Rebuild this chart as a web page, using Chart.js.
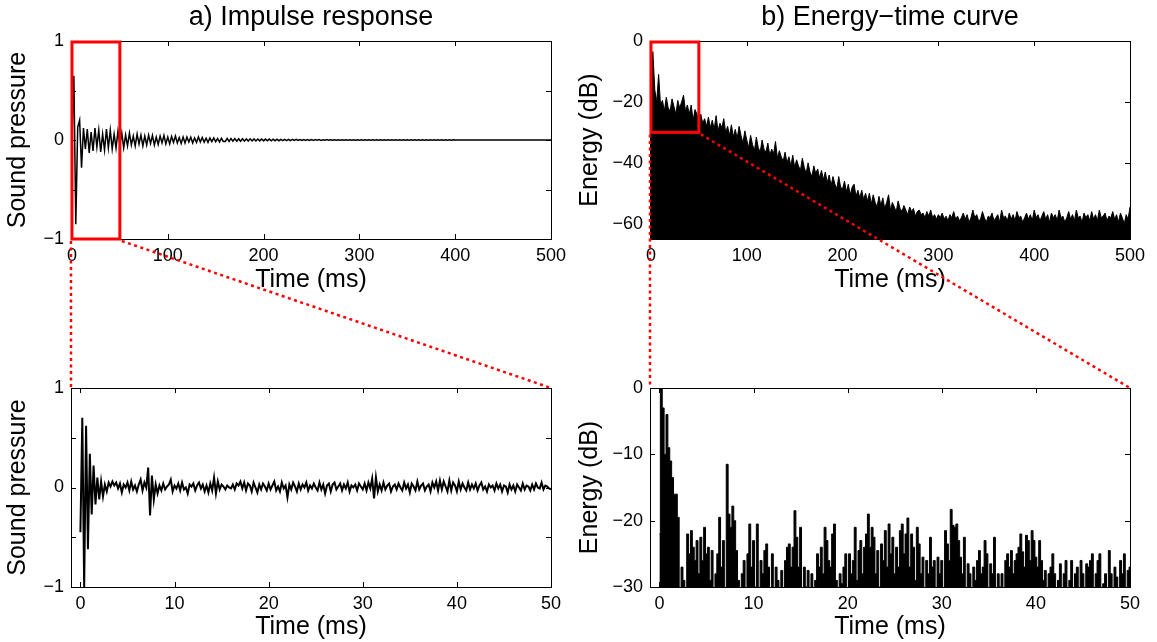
<!DOCTYPE html>
<html>
<head>
<meta charset="utf-8">
<title>Impulse response and energy-time curve</title>
<script src="https://cdn.jsdelivr.net/npm/chart.js@4.4.1/dist/chart.umd.min.js"></script>
<style>
  html, body { margin: 0; padding: 0; background: #fff; }
  #page { position: relative; width: 1157px; height: 642px; overflow: hidden; }
  #page canvas { position: absolute; }
  #overlay { left: 0; top: 0; pointer-events: none; }
</style>
</head>
<body>
<div id="page">
  <canvas id="irFull"  width="580" height="300" style="left:0;top:0"></canvas>
  <canvas id="etcFull" width="585" height="300" style="left:572px;top:0"></canvas>
  <canvas id="irZoom"  width="580" height="292" style="left:0;top:350px"></canvas>
  <canvas id="etcZoom" width="585" height="292" style="left:572px;top:350px"></canvas>
  <canvas id="overlay" width="1157" height="642"></canvas>
</div>
<script>
// sample spacing of the read-off series (ms)
const FULL_STEP_MS = 2;
const ZOOM_STEP_MS = 0.2;

const FULL_TIME_TICKS = [0, 100, 200, 300, 400, 500];
const ZOOM_TIME_TICKS = [0, 10, 20, 30, 40, 50];
const IR_TICKS        = [-1, -0.5, 0, 0.5, 1];
const IR_TICK_LABELS  = ['\u22121', '', '0', '', '1'];
const ETC_FULL_TICKS  = [-60, -40, -20, 0];
const ETC_FULL_LABELS = ['\u221260', '\u221240', '\u221220', '0'];
const ETC_ZOOM_TICKS  = [-30, -20, -10, 0];
const ETC_ZOOM_LABELS = ['\u221230', '\u221220', '\u221210', '0'];

// zoomed window shown in the lower panels
const ZOOM_WINDOW_MS = [0, 50];
const IR_WINDOW      = [-1, 1];
const ETC_WINDOW     = [-30, 0];

// a) impulse response, 0..500 ms every 2 ms
const irFull = [
  0, 0.65, -0.85, 0.13, 0.2, -0.28, 0.12, -0.09, 0.11, -0.13,
  0.08, -0.11, 0.12, -0.07, 0.1, -0.12, 0.06, -0.1, 0.11, -0.08,
  0.1, -0.09, 0.06, -0.08, 0.09, -0.05, 0.07, -0.08, 0.05, -0.06,
  0.07, -0.05, 0.04, -0.06, 0.06, -0.04, 0.05, -0.06, 0.04, -0.05,
  0.05, -0.035, 0.045, -0.05, 0.03, -0.045, 0.04, -0.03, 0.045, -0.04,
  0.03, -0.04, 0.035, -0.025, 0.04, -0.03, 0.025, -0.035, 0.03, -0.03,
  0.03, -0.02, 0.028, -0.03, 0.02, -0.025, 0.03, -0.02, 0.025, -0.022,
  0.018, -0.024, 0.02, -0.016, 0.022, -0.018, 0.015, -0.02, 0.017, -0.015,
  -0.015, 0.016, -0.014, 0.015, -0.013, 0.014, -0.012, 0.013, -0.013, 0.012,
  -0.012, 0.011, -0.011, 0.012, -0.01, 0.011, -0.01, 0.01, -0.009, 0.01,
  -0.009, 0.009, -0.008, 0.009, -0.008, 0.008, -0.007, 0.008, -0.007, 0.007,
  -0.007, 0.006, -0.006, 0.007, -0.006, 0.006, -0.005, 0.006, -0.005, 0.005,
  -0.005, 0.005, -0.004, 0.005, -0.004, 0.004, -0.004, 0.004, -0.003, 0.004,
  -0.004, 0.003, -0.003, 0.004, -0.003, 0.003, -0.003, 0.003, -0.003, 0.003,
  -0.003, 0.003, -0.002, 0.003, -0.002, 0.002, -0.002, 0.003, -0.002, 0.002,
  -0.002, 0.002, -0.002, 0.002, -0.002, 0.002, -0.002, 0.002, -0.002, 0.002,
  -0.002, 0.002, -0.002, 0.002, -0.002, 0.002, -0.002, 0.002, -0.002, 0.002,
  -0.002, 0.002, -0.002, 0.002, -0.002, 0.002, -0.002, 0.002, -0.002, 0.002,
  -0.002, 0.002, -0.002, 0.002, -0.002, 0.002, -0.002, 0.002, -0.002, 0.002,
  -0.002, 0.002, -0.002, 0.002, -0.002, 0.002, -0.002, 0.002, -0.002, 0.002,
  -0.001, 0.001, -0.001, 0.001, -0.001, 0.001, -0.001, 0.001, -0.001, 0.001,
  -0.001, 0.001, -0.001, 0.001, -0.001, 0.001, -0.001, 0.001, -0.001, 0.001,
  -0.001, 0.001, -0.001, 0.001, -0.001, 0.001, -0.001, 0.001, -0.001, 0.001,
  -0.001, 0.001, -0.001, 0.001, -0.001, 0.001, -0.001, 0.001, -0.001, 0.001,
  -0.001, 0.001, -0.001, 0.001, -0.001, 0.001, -0.001, 0.001, -0.001, 0.001,
  0
];

// b) energy-time curve (dB), 0..500 ms every 2 ms
const etcFull = [
  -10, -3.5, -16, -20, -11, -21, -19.5, -23, -18.5, -22,
  -23, -19, -21.5, -24, -19.5, -22, -20, -17.8, -23, -21,
  -24, -21, -26, -22.5, -24, -26.5, -24, -27, -25.5, -28,
  -25, -28.5, -26, -29, -24.5, -29.5, -27, -28.5, -25.5, -30,
  -28, -31, -27.5, -31.5, -29, -32, -28, -31, -33.5, -29.5,
  -32.5, -35, -31, -34, -36, -31.5, -35, -36.5, -32.5, -35.5,
  -36.5, -33.5, -37.5, -35.5, -37, -33, -38.5, -36, -38, -39.5,
  -36.5, -40, -38, -41, -37.5, -41.5, -39, -41, -42.5, -38.5,
  -41.5, -43.5, -40, -43, -44.5, -41, -43.5, -42, -45, -42.5,
  -45.5, -43, -46.5, -44, -47.5, -44.5, -47, -48.5, -44.5, -48,
  -48.5, -46, -49.5, -47, -50.5, -48, -47, -51, -49, -51.5,
  -49, -52, -50, -52.5, -50, -53.5, -50.5, -53, -54.5, -51,
  -54, -51.5, -55, -53, -50.5, -55.5, -53, -54.5, -56, -52.5,
  -55, -56, -54, -55.5, -57, -54.5, -56, -55, -57.5, -56,
  -55.5, -57, -56.5, -58, -56, -57.5, -55.5, -58, -57, -58.5,
  -57, -58, -56.5, -58.5, -57.5, -59, -57, -58, -56, -58.5,
  -57.5, -59, -58, -56.5, -58.5, -57, -59.5, -58, -55.5, -58,
  -57, -59, -58.5, -56, -58, -59.5, -57.5, -58, -56.5, -59,
  -58, -57, -59.5, -55.5, -58, -57.5, -59, -56.5, -58.5, -57,
  -59, -56, -58, -57.5, -59.5, -58, -56.5, -58.5, -57, -59,
  -55.5, -58, -57, -59, -57.5, -56, -58.5, -57, -59.5, -56.5,
  -58, -57, -59, -55.5, -58, -57.5, -59.5, -58, -56, -58.5,
  -57, -59, -55.5, -58, -57.5, -59.5, -56.5, -58, -57, -59,
  -56, -58.5, -57, -59, -55.5, -58, -57.5, -56.5, -59, -57.5,
  -58, -56, -58.5, -57, -59.5, -56.5, -58, -60, -57, -58.5,
  -54.5
];

// a) zoom, 0..50 ms every 0.2 ms
const irZoom = [
  -0.45, 0.7, -1.0, 0.62, -0.62, 0.34, -0.27, 0.22, -0.17, 0.1,
  -0.12, 0.06, -0.09, 0.03, -0.04, 0.05, 0.01, 0.06, 0.02, 0.05,
  -0.01, 0.04, -0.05, 0.03, 0.0, 0.05, -0.03, 0.06, -0.02, 0.02,
  -0.04, 0.03, 0.08, -0.03, 0.05, 0.0, 0.2, -0.28, 0.12, -0.12,
  0.03, -0.06, 0.02, -0.03, 0.04, -0.02, 0.01, 0.03, 0.08, -0.04,
  0.02, -0.01, 0.04, -0.03, 0.05, -0.02, 0.0, -0.06, 0.03, 0.01,
  0.04, -0.03, 0.02, 0.05, -0.01, 0.03, -0.04, 0.02, -0.05, 0.04,
  -0.03, 0.1, -0.06, 0.06, -0.02, 0.03, 0.01, -0.02, 0.02, 0.0,
  -0.01, 0.03, -0.02, 0.04, 0.02, 0.06, -0.01, 0.05, -0.03, 0.04,
  0.02, -0.04, 0.05, 0.0, -0.05, 0.03, -0.02, 0.04, 0.01, -0.03,
  0.04, -0.02, 0.02, 0.06, -0.03, 0.01, -0.04, 0.05, -0.01, 0.02,
  -0.1, 0.03, -0.02, 0.05, 0.01, -0.04, 0.04, -0.02, 0.03, 0.0,
  0.05, -0.03, 0.02, -0.01, 0.04, 0.0, -0.03, 0.05, -0.02, 0.03,
  -0.06, 0.02, 0.04, -0.04, 0.03, 0.05, -0.02, 0.01, 0.04, -0.03,
  0.03, -0.01, 0.05, -0.04, 0.02, 0.0, 0.03, -0.03, 0.04, 0.01,
  -0.02, 0.04, -0.03, 0.05, -0.01, 0.09, -0.11, 0.1, -0.04, 0.03,
  -0.03, 0.05, -0.02, 0.02, 0.04, -0.04, 0.01, 0.03, -0.02, 0.04,
  0.0, -0.03, 0.05, -0.01, 0.03, -0.05, 0.04, 0.01, -0.03, 0.06,
  -0.02, 0.02, 0.04, -0.03, 0.01, 0.03, -0.04, 0.05, 0.0, 0.06,
  -0.03, 0.07, -0.02, 0.06, 0.01, -0.04, 0.07, -0.03, 0.05, 0.02,
  -0.04, 0.06, -0.02, 0.04, 0.0, -0.03, 0.05, -0.02, 0.03, -0.01,
  0.04, -0.03, 0.02, 0.05, -0.02, 0.01, -0.04, 0.03, 0.0, 0.02,
  -0.03, 0.04, -0.01, 0.03, -0.04, 0.02, 0.01, -0.05, 0.03, -0.02,
  0.02, -0.04, 0.03, 0.0, -0.03, 0.04, -0.02, 0.02, 0.01, -0.03,
  0.03, -0.02, 0.04, 0.0, -0.01, 0.05, -0.02, 0.02, 0.01, -0.01,
  -0.02
];

// b) zoom (dB), 0..50 ms every 0.2 ms; values under -30 sit below the axis
const etcZoom = [
  -22, 0, -3, -10, -4, -9, -11, -13.5, -16, -16,
  -19.5, -34, -27, -29, -34, -22, -25, -21.5, -24, -26,
  -23, -28, -22.5, -26, -21, -25, -24, -29, -24.5, -34,
  -28, -25, -19.5, -27, -23, -34, -11.5, -19, -21, -17.8,
  -20, -24.5, -29, -34, -28, -26, -34, -25, -20.5, -27,
  -23, -30, -20.5, -34, -26, -28, -24.5, -23.5, -27, -34,
  -25, -34, -27, -29, -34, -27.5, -32, -26, -24, -23.5,
  -27, -24, -18.5, -22.5, -27, -21, -34, -27, -30, -27.5,
  -34, -28, -34, -29, -25, -27, -24, -28, -21, -23,
  -26, -27, -22, -20.5, -29, -34, -28, -29.5, -27, -25,
  -34, -25, -28, -26, -21, -29, -24.5, -23, -28, -24,
  -22, -19, -24, -21, -22.5, -28, -24.5, -30, -23.5, -26,
  -21.5, -27, -20.5, -25, -22.5, -28, -24, -27, -21.5, -20.5,
  -25, -22, -19.6, -27, -22, -24, -29, -21, -23.5, -28,
  -25.5, -34, -26, -28, -22.5, -27, -26, -34, -25.5, -28,
  -26, -34, -21.5, -23.5, -26, -18.3, -20.7, -21, -20.5, -23,
  -25.5, -28, -22.5, -34, -26.5, -28, -34, -27, -29, -26,
  -24.5, -28, -27, -23, -25, -34, -26.5, -28, -22.5, -34,
  -28, -30, -28, -34, -26, -25, -27, -24.5, -28, -26,
  -25, -24, -22, -24.7, -27, -22.2, -23, -26, -21.5, -23,
  -25.5, -27, -23, -26, -29, -27.5, -34, -28, -27, -25,
  -28, -34, -29, -26.5, -34, -28, -26, -34, -29, -26,
  -34, -28, -27, -34, -26, -28, -34, -26.5, -27, -26,
  -25, -34, -28, -26, -25, -34, -29.5, -28, -34, -24.5,
  -28, -34, -27, -28.5, -34, -26, -28, -25, -34, -27.5,
  -27
];

Chart.defaults.font.family = '"Liberation Sans", Arial, Helvetica, sans-serif';
Chart.defaults.color = '#000';

function toPoints(values, step) {
  return values.map((v, i) => ({ x: +(i * step).toFixed(2), y: v }));
}

// MATLAB style box with inward ticks on all four sides
const boxPlugin = {
  id: 'matlabBox',
  afterDatasetsDraw(chart) {
    const { ctx, chartArea: a, scales } = chart;
    const L = 5;
    ctx.save();
    ctx.strokeStyle = '#000';
    ctx.lineWidth = 1;
    ctx.beginPath();
    scales.x.ticks.forEach(t => {
      const px = Math.round(scales.x.getPixelForValue(t.value)) + 0.5;
      ctx.moveTo(px, a.bottom); ctx.lineTo(px, a.bottom - L);
      ctx.moveTo(px, a.top);    ctx.lineTo(px, a.top + L);
    });
    scales.y.ticks.forEach(t => {
      const py = Math.round(scales.y.getPixelForValue(t.value)) + 0.5;
      ctx.moveTo(a.left, py);  ctx.lineTo(a.left + L, py);
      ctx.moveTo(a.right, py); ctx.lineTo(a.right - L, py);
    });
    ctx.stroke();
    ctx.strokeRect(Math.round(a.left) + 0.5, Math.round(a.top) + 0.5,
                   Math.round(a.right - a.left), Math.round(a.bottom - a.top));
    ctx.restore();
  }
};

// red rectangle marking the zoomed window
const zoomBoxPlugin = {
  id: 'zoomBox',
  afterDraw(chart, args, opts) {
    if (!opts || !opts.y) return;
    const { ctx, scales } = chart;
    const x0 = scales.x.getPixelForValue(opts.x[0]);
    const x1 = scales.x.getPixelForValue(opts.x[1]);
    const y0 = scales.y.getPixelForValue(opts.y[1]);
    const y1 = scales.y.getPixelForValue(opts.y[0]);
    ctx.save();
    ctx.strokeStyle = '#ff0000';
    ctx.lineWidth = 3;
    ctx.strokeRect(x0, y0 + 1, x1 - x0, y1 - y0 - 1);
    ctx.restore();
  }
};

function makePanel(id, p) {
  return new Chart(document.getElementById(id), {
    type: 'line',
    data: {
      datasets: [{
        data: p.points,
        borderColor: '#000',
        backgroundColor: '#000',
        borderWidth: p.lineWidth,
        fill: p.fill ? 'start' : false,
        stepped: p.stepped || false,
        pointRadius: 0,
        tension: 0,
        clip: 0
      }]
    },
    options: {
      responsive: false,
      animation: false,
      devicePixelRatio: 1,
      parsing: false,
      normalized: true,
      layout: { padding: p.padding },
      plugins: {
        legend: { display: false },
        tooltip: { enabled: false },
        title: p.title ? {
          display: true,
          text: p.title,
          fullSize: false,
          color: '#000',
          font: { size: 27, weight: 'normal' },
          padding: { top: 1, bottom: 7.6 }
        } : { display: false },
        zoomBox: p.zoomBox || {}
      },
      scales: {
        x: {
          type: 'linear',
          min: p.xRange[0],
          max: p.xRange[1],
          grid: { display: false, drawTicks: false },
          border: { display: false },
          afterBuildTicks: s => { s.ticks = p.xTicks.map(v => ({ value: v })); },
          afterFit: s => { s.height = p.xHeight; },
          ticks: {
            padding: 6,
            autoSkip: false,
            maxRotation: 0,
            font: { size: 18 },
            callback: (v, i) => String(p.xTicks[i])
          },
          title: {
            display: true,
            text: 'Time (ms)',
            font: { size: 25 },
            padding: { top: 0, bottom: p.xTitlePad }
          }
        },
        y: {
          min: p.yRange[0],
          max: p.yRange[1],
          grid: { display: false, drawTicks: false },
          border: { display: false },
          afterBuildTicks: s => { s.ticks = p.yTicks.map(v => ({ value: v })); },
          afterFit: s => { s.width = p.yWidth; },
          ticks: {
            padding: 7,
            autoSkip: false,
            font: { size: 18 },
            callback: (v, i) => p.yLabels[i]
          },
          title: {
            display: true,
            text: p.yTitle,
            font: { size: 25 },
            padding: { top: p.yTitlePad, bottom: 0 }
          }
        }
      }
    },
    plugins: [boxPlugin, zoomBoxPlugin]
  });
}

const irFullChart = makePanel('irFull', {
  points: toPoints(irFull, FULL_STEP_MS), lineWidth: 1.5, fill: false,
  title: 'a) Impulse response',
  padding: { left: 0, right: 29, top: 0, bottom: 0 },
  xRange: [-1, 500], xTicks: FULL_TIME_TICKS, xHeight: 61, xTitlePad: 5,
  yRange: [-1, 1], yTicks: IR_TICKS, yLabels: IR_TICK_LABELS,
  yWidth: 71, yTitle: 'Sound pressure', yTitlePad: 3,
  zoomBox: { x: ZOOM_WINDOW_MS, y: IR_WINDOW }
});

const etcFullChart = makePanel('etcFull', {
  points: toPoints(etcFull, FULL_STEP_MS), lineWidth: 1, fill: true,
  title: 'b) Energy\u2212time curve',
  padding: { left: 0, right: 27, top: 0, bottom: 0 },
  xRange: [-1, 500], xTicks: FULL_TIME_TICKS, xHeight: 61, xTitlePad: 5,
  yRange: [-65, 0], yTicks: ETC_FULL_TICKS, yLabels: ETC_FULL_LABELS,
  yWidth: 78, yTitle: 'Energy (dB)', yTitlePad: 3.5,
  zoomBox: { x: ZOOM_WINDOW_MS, y: ETC_WINDOW }
});

const irZoomChart = makePanel('irZoom', {
  points: toPoints(irZoom, ZOOM_STEP_MS), lineWidth: 2, fill: false,
  padding: { left: 0, right: 29, top: 38, bottom: 0 },
  xRange: [-1, 50], xTicks: ZOOM_TIME_TICKS, xHeight: 55, xTitlePad: 0,
  yRange: [-1, 1], yTicks: IR_TICKS, yLabels: IR_TICK_LABELS,
  yWidth: 71, yTitle: 'Sound pressure', yTitlePad: 3
});

const etcZoomChart = makePanel('etcZoom', {
  points: toPoints(etcZoom, ZOOM_STEP_MS), lineWidth: 1, fill: true, stepped: 'middle',
  padding: { left: 0, right: 27, top: 38, bottom: 0 },
  xRange: [-1, 50], xTicks: ZOOM_TIME_TICKS, xHeight: 55, xTitlePad: 0,
  yRange: [-30, 0], yTicks: ETC_ZOOM_TICKS, yLabels: ETC_ZOOM_LABELS,
  yWidth: 78, yTitle: 'Energy (dB)', yTitlePad: 3.5
});

// dotted red lines from the window corners to the zoomed panel corners
function drawConnectors() {
  const ctx = document.getElementById('overlay').getContext('2d');
  ctx.strokeStyle = '#ff0000';
  ctx.lineWidth = 2.5;
  ctx.setLineDash([3, 3.5]);

  function link(top, bottom, windowY) {
    const ox = top.canvas.offsetLeft, oy = top.canvas.offsetTop;
    const bx = bottom.canvas.offsetLeft, by = bottom.canvas.offsetTop;
    const yEdge = oy + top.scales.y.getPixelForValue(windowY[0]);
    const xa = ox + top.scales.x.getPixelForValue(ZOOM_WINDOW_MS[0]);
    const xb = ox + top.scales.x.getPixelForValue(ZOOM_WINDOW_MS[1]);
    const area = bottom.chartArea;
    ctx.beginPath();
    ctx.moveTo(xa - 1, yEdge + 2);
    ctx.lineTo(bx + area.left, by + area.top);
    ctx.moveTo(xb + 2, yEdge + 2);
    ctx.lineTo(bx + area.right, by + area.top);
    ctx.stroke();
  }

  link(irFullChart, irZoomChart, IR_WINDOW);
  link(etcFullChart, etcZoomChart, ETC_WINDOW);
}

drawConnectors();
</script>
</body>
</html>
